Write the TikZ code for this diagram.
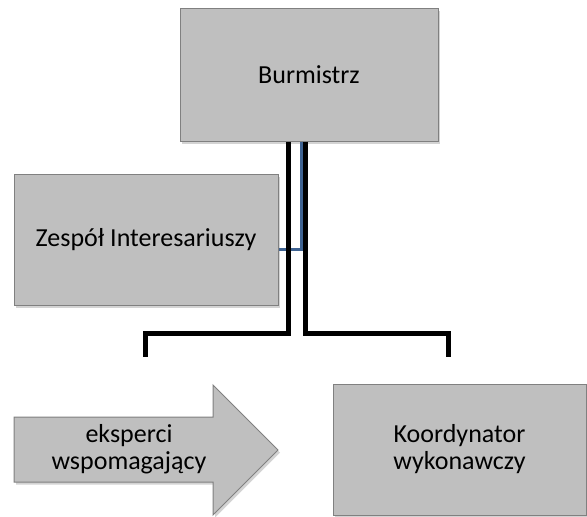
\documentclass[tikz,border=0pt]{standalone}
\usepackage{fontspec}
\setmainfont{Carlito}
\definecolor{BoxGray}{RGB}{191,191,191}
\definecolor{EdgeGray}{RGB}{128,128,128}
\definecolor{LinkBlue}{RGB}{62,98,145}
\usetikzlibrary{positioning, calc, shadows}

\begin{document}
\begin{tikzpicture}[x=1pt, y=-1pt,
	box/.style={rectangle, fill=BoxGray, draw=EdgeGray, line width=1pt,
		align=center, font=\fontsize{26}{27}\selectfont,
		drop shadow={shadow xshift=2pt, shadow yshift=-2.5pt, opacity=0.35}},
	napis/.style={align=center, font=\fontsize{26}{27}\selectfont},
	link/.style={line width=5pt},
	bluelink/.style={draw=LinkBlue, line width=3pt}]
	\useasboundingbox (0,0) rectangle (587,517);
	% prostokąty
	\node[box, minimum width=258pt, minimum height=133pt] (burmistrz) at (309,74.5) {Burmistrz};
	\node[box, minimum width=264pt, minimum height=131pt] (zespol) at (146,239.5) {Zespół Interesariuszy};
	\node[box, minimum width=253pt, minimum height=131pt] (koordynator) at (459.5,449.5) {Koordynator\\wykonawczy};
	% strzałka z ekspertami
	\filldraw[fill=BoxGray, draw=EdgeGray, line width=1pt,
		drop shadow={shadow xshift=2pt, shadow yshift=-2.5pt, opacity=0.35}]
		(14,417) -- (213,417) -- (213,385) -- (278,450) -- (213,515) -- (213,482) -- (14,482) -- cycle;
	\node[napis] (eksperci) at (129,449.5) {eksperci\\wspomagający};
	% połączenia
	\coordinate (lewyKoniec) at (145.5,357);
	\coordinate (prawyKoniec) at (448,357);
	\draw[bluelink] ([xshift=-8pt]burmistrz.south) |- ([yshift=-9.5pt]zespol.east);
	\draw[link] ([xshift=-21pt]burmistrz.south) |- ([yshift=24pt]lewyKoniec) -- (lewyKoniec);
	\draw[link] ([xshift=-4pt]burmistrz.south) |- ([yshift=24pt]prawyKoniec) -- (prawyKoniec);
\end{tikzpicture}
\end{document}
